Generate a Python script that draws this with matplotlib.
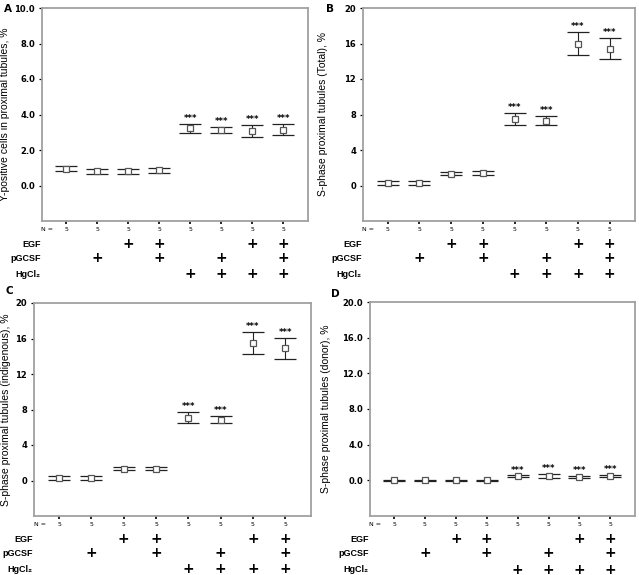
import matplotlib

matplotlib.use('Agg')
import matplotlib.pyplot as plt
import numpy as np

plt.rcParams['font.family'] = ['DejaVu Sans']

# treatment groups (1..8) and which factor each one got
groups = np.arange(1, 9)
n_per_group = ["5", "5", "5", "5", "5", "5", "5", "5"]
egf = [0, 0, 1, 1, 0, 0, 1, 1]
pgcsf = [0, 1, 0, 1, 0, 1, 0, 1]
hgcl2 = [0, 0, 0, 0, 1, 1, 1, 1]
signif = [0, 0, 0, 0, 1, 1, 1, 1]

# A: Y-positive cells
a_mean = [0.95, 0.80, 0.80, 0.85, 3.22, 3.12, 3.06, 3.14]
a_err = [0.15, 0.14, 0.14, 0.14, 0.26, 0.17, 0.33, 0.31]
# B: S-phase total
b_mean = [0.32, 0.32, 1.35, 1.40, 7.50, 7.30, 16.0, 15.4]
b_err = [0.22, 0.22, 0.22, 0.25, 0.72, 0.50, 1.30, 1.20]
# C: S-phase indigenous
c_mean = [0.28, 0.28, 1.32, 1.35, 7.07, 6.85, 15.5, 14.9]
c_err = [0.24, 0.24, 0.19, 0.20, 0.64, 0.42, 1.25, 1.20]
# D: S-phase donor
d_mean = [0.02, 0.02, 0.02, 0.02, 0.45, 0.48, 0.40, 0.50]
d_err = [0.04, 0.04, 0.04, 0.04, 0.10, 0.20, 0.14, 0.15]

W, H = 639, 575
fig = plt.figure(figsize=(W / 100, H / 100), dpi=100)


def px_axes(left, top, right, bottom):
    return fig.add_axes([left / W, 1 - bottom / H, (right - left) / W, (bottom - top) / H])


panels = [
    dict(box=(42, 8, 308, 221), mean=a_mean, err=a_err, letter="A",
         ylabel="Y-positive cells in proximal tubules, %", ylim=(-2, 10),
         ticks=np.arange(0, 10.1, 2), fmt="{:.1f}", labx=-0.12, star_off=0.05),
    dict(box=(363, 8, 635, 221), mean=b_mean, err=b_err, letter="B",
         ylabel="S-phase proximal tubules (Total), %", ylim=(-4, 20),
         ticks=np.arange(0, 20.1, 4), fmt="{:.0f}", labx=-0.13, star_off=0.1),
    dict(box=(34, 303, 311, 516), mean=c_mean, err=c_err, letter="C",
         ylabel="S-phase proximal tubules (indigenous), %", ylim=(-4, 20),
         ticks=np.arange(0, 20.1, 4), fmt="{:.0f}", labx=-0.083, star_off=0.1),
    dict(box=(370, 302, 635, 516), mean=d_mean, err=d_err, letter="D",
         ylabel="S-phase proximal tubules (donor), %", ylim=(-4, 20),
         ticks=np.arange(0, 20.1, 4), fmt="{:.1f}", labx=-0.148, star_off=0.1),
]

letter_pos = {"A": (4, 9), "B": (326, 9), "C": (5, 291), "D": (331, 294)}

for p in panels:
    ax = px_axes(*p["box"])
    mean = np.array(p["mean"])
    err = np.array(p["err"])
    ax.errorbar(groups, mean, yerr=err, fmt='s', markersize=4,
                markerfacecolor='white', markeredgecolor='#555555', markeredgewidth=0.9,
                ecolor='#222222', elinewidth=0.8, capsize=8, capthick=1.0)
    for g, m, e, s in zip(groups, mean, err, signif):
        if s:
            ax.text(g, m + e + p["star_off"], "***", ha='center', va='bottom',
                    fontsize=6, fontweight='bold')

    ax.set_xlim(0.22, 8.8)
    ax.set_ylim(*p["ylim"])
    ax.set_yticks(p["ticks"])
    ax.set_yticklabels([p["fmt"].format(t) for t in p["ticks"]], fontsize=6,
                       fontweight='bold')
    ax.set_xticks(groups)
    ax.set_xticklabels([])
    ax.tick_params(axis='x', length=2, width=1.2, color='black', direction='out')
    ax.tick_params(axis='y', length=2, width=0.9, color='black', pad=3)
    for sp in ax.spines.values():
        sp.set_color('#a0a0a0')
        sp.set_linewidth(1.3)

    ax.set_ylabel(p["ylabel"], fontsize=7.5, family='Liberation Sans')
    ax.yaxis.set_label_coords(p["labx"], 0.5)

    trans = ax.get_xaxis_transform()
    ax.text(0.02, -0.042, "N =", transform=ax.transAxes, ha='center', va='center',
            fontsize=4.5)
    for g, n in zip(groups, n_per_group):
        ax.text(g, -0.042, n, transform=trans, ha='center', va='center', fontsize=4.5)
    rows = [("EGF", egf, -0.108), ("pGCSF", pgcsf, -0.175), ("HgCl\u2082", hgcl2, -0.25)]
    for name, flags, yy in rows:
        ax.text(-0.005, yy, name, transform=ax.transAxes, ha='right', va='center',
                fontsize=6.5, fontweight='bold', family='Liberation Sans')
        for g, f in zip(groups, flags):
            if f:
                ax.text(g, yy, "+", transform=trans, ha='center', va='center',
                        fontsize=10, fontweight='bold')

    lx, ly = letter_pos[p["letter"]]
    fig.text(lx / W, 1 - ly / H, p["letter"], ha='left', va='center',
             fontsize=7.5, fontweight='bold')

fig.savefig("out.png", dpi=100)
